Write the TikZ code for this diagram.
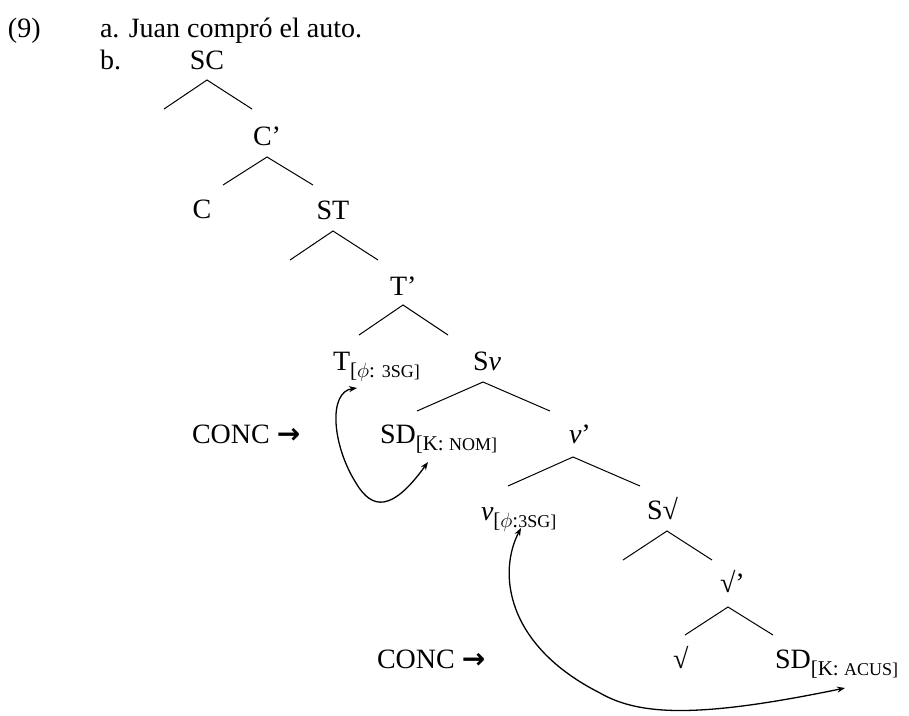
\documentclass[tikz,border=0pt]{standalone}
\usepackage{fontspec}
\setmainfont{Liberation Serif}
\newfontfamily\arrowfont{DejaVu Sans}
\usetikzlibrary{arrows.meta}
\newcommand{\mysub}[2]{\raisebox{-0.27em}{\fontsize{21}{21}\selectfont #1\fontsize{18}{18}\selectfont #2}}
\newcommand{\concarrow}{{\arrowfont\bfseries →}}
\begin{document}
\begin{tikzpicture}[x=1pt,y=-1pt,
  lbl/.style={inner sep=0pt, outer sep=0pt, font=\fontsize{28}{32}\selectfont},
  branch/.style={line width=1pt},
  move/.style={line width=1.3pt, {Stealth[length=8pt,width=6pt]}-{Stealth[length=8pt,width=6pt]}}]
\useasboundingbox (0,0) rectangle (909,715);

% text lines
\node[lbl, anchor=base west] (ex) at (8,37) {(9)};
\node[lbl, anchor=base west] (sa) at (100,37) {a. Juan compró el auto.};
\node[lbl, anchor=base west] (sb) at (100,69) {b.};

% tree labels
\node[lbl, anchor=base] (SC) at (207,69) {SC};
\node[lbl, anchor=base west] (Cb) at (253,145) {C’};
\node[lbl, anchor=base] (C) at (202,218) {C};
\node[lbl, anchor=base] (ST) at (333,219) {ST};
\node[lbl, anchor=base west] (Tb) at (390,295) {T’};
\node[lbl, anchor=base west] (T) at (333,370) {T\mysub{[$\phi$: }{3SG]}};
\node[lbl, anchor=base west] (Sv) at (473,370) {S\textit{ν}};
\node[lbl, anchor=base west] (conc1) at (192,443) {CONC \concarrow};
\node[lbl, anchor=base west] (SD1) at (380,443) {SD\mysub{[K: }{NOM]}};
\node[lbl, anchor=base west] (vb) at (569,443) {\textit{ν}’};
\node[lbl, anchor=base west] (v) at (481,520) {\textit{ν}\mysub{[$\phi$:}{3SG]}};
\node[lbl, anchor=base west] (Sr) at (647,519) {S√};
\node[lbl, anchor=base west] (rb) at (720,592) {√’};
\node[lbl, anchor=base west] (r) at (673,668) {√};
\node[lbl, anchor=base west] (SD2) at (775,668) {SD\mysub{[K: }{ACUS]}};
\node[lbl, anchor=base west] (conc2) at (377,668) {CONC \concarrow};

% branch coordinates
\coordinate (a1) at (207,80);  \coordinate (l1) at (164,109); \coordinate (r1) at (252,109);
\coordinate (a2) at (267,157); \coordinate (l2) at (223,185); \coordinate (r2) at (313,185);
\coordinate (a3) at (333,231); \coordinate (l3) at (290,260); \coordinate (r3) at (378,260);
\coordinate (a4) at (403,305); \coordinate (l4) at (359,335); \coordinate (r4) at (448,335);
\coordinate (a5) at (483,382); \coordinate (l5) at (417,411); \coordinate (r5) at (550,411);
\coordinate (a6) at (573,457); \coordinate (l6) at (508,486); \coordinate (r6) at (640,486);
\coordinate (a7) at (667,531); \coordinate (l7) at (623,560); \coordinate (r7) at (712,560);
\coordinate (a8) at (728,607); \coordinate (l8) at (685,635); \coordinate (r8) at (773,635);

\foreach \i in {1,...,8} {
  \draw[branch] (l\i) -- (a\i) -- (r\i);
}

% movement arrows
\coordinate (m1s) at (357,388);
\coordinate (m1e) at (428,462);
\draw[move] (m1s) .. controls (328,392) and (332,445) .. (356,483)
            .. controls (372,510) and (392,512) .. (m1e);

\coordinate (m2s) at (521,528);
\coordinate (m2e) at (845,688);
\draw[move] (m2s) .. controls (498,572) and (505,645) .. (600,693)
            .. controls (640,716) and (700,718) .. (m2e);
\end{tikzpicture}
\end{document}
